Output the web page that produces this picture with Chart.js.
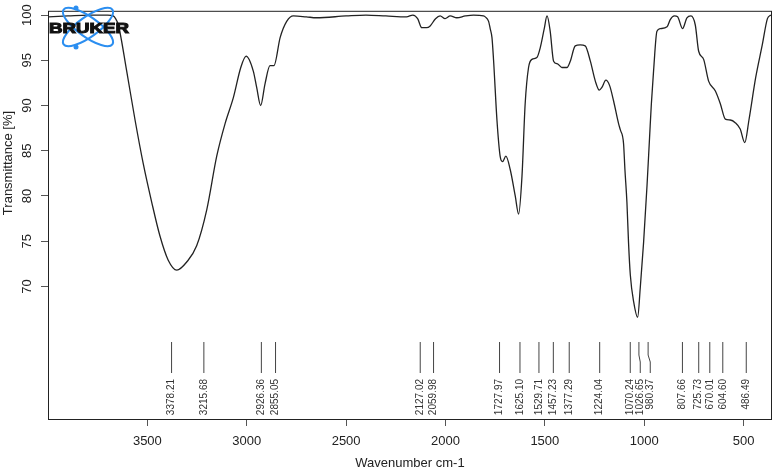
<!DOCTYPE html>
<html>
<head>
<meta charset="utf-8">
<script src="https://cdn.jsdelivr.net/npm/chart.js@4/dist/chart.umd.min.js"></script>
<style>
  html, body { margin: 0; padding: 0; background: #fff; }
  #wrap { width: 774px; height: 467px; }
</style>
</head>
<body>
<div id="wrap"><canvas id="ir"></canvas></div>
<script>
// spectrum (wavenumber cm-1, transmittance %)
const wavenumbers = [4000, 3900, 3800, 3700, 3672, 3660, 3646, 3604, 3562, 3521, 3478, 3437, 3395, 3352, 3302, 3252, 3201, 3151, 3109, 3067, 3030, 3003, 2967, 2950, 2930, 2908, 2883, 2863, 2832, 2799, 2765, 2700, 2650, 2500, 2400, 2300, 2196, 2164, 2140, 2119, 2095, 2077, 2050, 2027, 2002, 1976, 1943, 1900, 1859, 1809, 1800, 1783, 1775, 1766, 1758, 1741, 1725, 1713, 1696, 1674, 1649, 1632, 1615, 1599, 1582, 1565, 1540, 1523, 1503, 1489, 1473, 1456, 1436, 1414, 1389, 1372, 1347, 1322, 1297, 1271, 1246, 1226, 1213, 1193, 1174, 1154, 1129, 1120, 1104, 1097, 1087, 1079, 1070, 1053, 1033, 1020, 1003, 986, 973, 964, 953, 936, 919, 885, 869, 848, 832, 807, 785, 765, 743, 726, 701, 676, 642, 617, 592, 567, 542, 517, 494, 473, 439, 406, 380, 363];
const transmittance = [99.8, 99.9, 100.0, 100.0, 99.9, 99.6, 98.9, 93.8, 88.4, 83.6, 79.3, 75.6, 72.9, 71.8, 72.7, 74.5, 78.5, 84.4, 88.0, 90.9, 94.2, 95.45, 93.8, 92.0, 90.0, 92.4, 94.4, 94.4, 97.5, 99.3, 99.9, 99.8, 99.7, 99.9, 100.0, 99.9, 99.8, 100.0, 99.6, 98.6, 98.6, 98.8, 99.6, 99.9, 99.6, 99.9, 99.7, 99.9, 100.0, 99.9, 99.8, 99.3, 98.5, 97.5, 95.0, 88.4, 84.4, 83.8, 84.4, 82.9, 80.0, 78.0, 82.2, 90.2, 94.2, 95.1, 95.3, 96.4, 98.5, 99.9, 98.2, 94.9, 94.6, 94.2, 94.2, 94.9, 96.6, 96.7, 96.6, 94.9, 92.7, 91.7, 92.0, 92.8, 92.2, 90.5, 88.0, 87.3, 85.8, 82.9, 79.3, 74.9, 71.3, 68.3, 66.6, 69.8, 74.9, 81.1, 86.5, 90.2, 93.8, 98.2, 98.5, 98.7, 99.5, 99.9, 99.8, 98.5, 99.7, 99.9, 98.9, 96.0, 95.1, 92.7, 91.6, 90.2, 88.5, 88.4, 88.1, 87.4, 85.9, 88.4, 93.1, 96.7, 99.6, 100.0];

// picked peaks
const peaks = [3378.21, 3215.68, 2926.36, 2855.05, 2127.02, 2059.98, 1727.97, 1625.10, 1529.71, 1457.23, 1377.29, 1224.04, 1070.24, 1026.65, 980.37, 807.66, 725.73, 670.01, 604.60, 486.49];

// axis ticks
const xTicks = [3500, 3000, 2500, 2000, 1500, 1000, 500];
const yTicks = [70, 75, 80, 85, 90, 95, 100];

const FONT = "'Liberation Sans', Arial, sans-serif";

const framePlugin = {
  id: 'frame',
  afterDraw(chart) {
    const { ctx, chartArea: a } = chart;
    ctx.save();
    ctx.strokeStyle = '#222';
    ctx.lineWidth = 1;
    ctx.strokeRect(a.left + 0.5, a.top + 0.5, a.right - a.left - 1, a.bottom - a.top);
    // y title
    ctx.translate(8, 163);
    ctx.rotate(-Math.PI / 2);
    ctx.fillStyle = '#222';
    ctx.font = '13px ' + FONT;
    ctx.textAlign = 'center';
    ctx.textBaseline = 'middle';
    ctx.fillText('Transmittance [%]', 0, 0);
    ctx.restore();
  }
};

const peakPlugin = {
  id: 'peaks',
  afterDatasetsDraw(chart) {
    const { ctx, chartArea: a, scales: { x } } = chart;
    const yTop = a.bottom - 77, yBend1 = a.bottom - 64, yBend2 = a.bottom - 57, yBot = a.bottom - 46;
    const px = peaks.map(p => x.getPixelForValue(p));
    const pos = [];
    px.forEach((v, i) => pos.push(i && v < pos[i - 1] + 10 ? pos[i - 1] + 10 : v));
    ctx.save();
    ctx.strokeStyle = '#444';
    ctx.lineWidth = 1;
    ctx.fillStyle = '#333';
    ctx.font = '10px ' + FONT;
    peaks.forEach((p, i) => {
      ctx.beginPath();
      ctx.moveTo(px[i], yTop);
      ctx.lineTo(px[i], yBend1);
      ctx.lineTo(pos[i], yBend2);
      ctx.lineTo(pos[i], yBot);
      ctx.stroke();
      ctx.save();
      ctx.translate(pos[i], a.bottom - 40);
      ctx.rotate(-Math.PI / 2);
      ctx.textAlign = 'right';
      ctx.textBaseline = 'middle';
      ctx.fillText(p.toFixed(2), 0, 0);
      ctx.restore();
    });
    ctx.restore();
  }
};

const logoPlugin = {
  id: 'logo',
  afterDraw(chart) {
    const ctx = chart.ctx;
    ctx.save();
    ctx.strokeStyle = '#2b8ef0';
    ctx.fillStyle = '#2b8ef0';
    ctx.lineWidth = 2;
    [0.62, -0.62].forEach(r => {
      ctx.beginPath();
      ctx.ellipse(88, 27, 30, 10, r, 0, Math.PI * 2);
      ctx.stroke();
    });
    [[76, 8], [76, 47]].forEach(([cx, cy]) => {
      ctx.beginPath();
      ctx.arc(cx, cy, 2.5, 0, Math.PI * 2);
      ctx.fill();
    });
    ctx.fillStyle = '#111';
    ctx.strokeStyle = '#111';
    ctx.lineWidth = 1;
    ctx.font = 'bold 14px ' + FONT;
    const w = ctx.measureText('BRUKER').width;
    ctx.translate(49, 33);
    ctx.scale(80 / w, 1);
    ctx.fillText('BRUKER', 0, 0);
    ctx.strokeText('BRUKER', 0, 0);
    ctx.restore();
  }
};

new Chart(document.getElementById('ir'), {
  type: 'line',
  data: {
    datasets: [{
      data: wavenumbers.map((w, i) => ({ x: w, y: transmittance[i] })),
      borderColor: '#222',
      borderWidth: 1.3,
      pointRadius: 0,
      fill: false,
      cubicInterpolationMode: 'monotone'
    }]
  },
  options: {
    responsive: true,
    maintainAspectRatio: false,
    animation: false,
    layout: { padding: { left: 0, right: 2, top: 6, bottom: 0 } },
    plugins: { legend: { display: false }, tooltip: { enabled: false } },
    scales: {
      x: {
        type: 'linear',
        reverse: true,
        min: 357,
        max: 4000,
        afterBuildTicks: s => { s.ticks = xTicks.map(v => ({ value: v })); },
        afterFit: s => { s.height = 48; },
        grid: { drawOnChartArea: false, drawTicks: true, tickLength: 7, color: '#555' },
        border: { display: false },
        ticks: { autoSkip: false, maxRotation: 0, padding: 8, color: '#222', font: { family: FONT, size: 13 }, callback: v => String(v) },
        title: { display: true, text: 'Wavenumber cm-1', color: '#222', font: { family: FONT, size: 13 }, padding: { top: 0, bottom: -4 } }
      },
      y: {
        min: 55.35,
        max: 100.47,
        afterBuildTicks: s => { s.ticks = yTicks.map(v => ({ value: v })); },
        afterFit: s => { s.width = 48; },
        grid: { drawOnChartArea: false, drawTicks: true, tickLength: 7, color: '#555' },
        border: { display: false },
        ticks: { autoSkip: false, minRotation: 90, maxRotation: 90, crossAlign: 'center', padding: 3, color: '#222', font: { family: FONT, size: 13 }, callback: v => String(v) }
      }
    }
  },
  plugins: [framePlugin, peakPlugin, logoPlugin]
});
</script>
</body>
</html>
